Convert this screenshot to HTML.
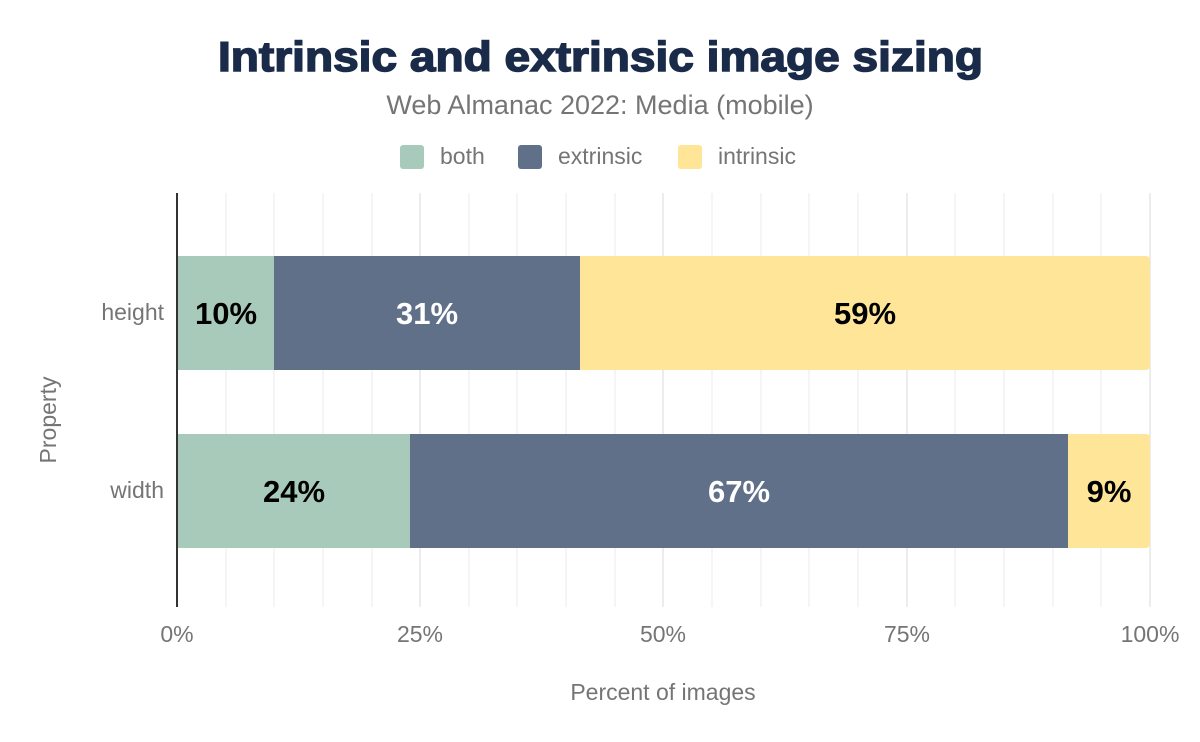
<!DOCTYPE html>
<html><head><style>body{margin:0;background:#fff}svg{display:block}</style></head><body>
<svg width="1200" height="742" xmlns="http://www.w3.org/2000/svg" font-family="Liberation Sans, Arial, sans-serif">
<rect width="1200" height="742" fill="#fff"/>
<text x="218" y="71" textLength="765" lengthAdjust="spacingAndGlyphs" font-size="42" font-weight="900" fill="#1a2b49" stroke="#1a2b49" stroke-width="1.5">Intrinsic and extrinsic image sizing</text>
<text x="600" y="114" text-anchor="middle" font-size="27" fill="#757575">Web Almanac 2022: Media (mobile)</text>
<rect x="400" y="145" width="24" height="24" rx="3" fill="#a8cabb"/>
<text x="440" y="164" font-size="23" fill="#757575">both</text>
<rect x="518" y="145" width="24" height="24" rx="3" fill="#617089"/>
<text x="558" y="164" font-size="23" fill="#757575">extrinsic</text>
<rect x="678" y="145" width="24" height="24" rx="3" fill="#fee597"/>
<text x="718" y="164" font-size="23" fill="#757575">intrinsic</text>
<g stroke="#f5f5f5" stroke-width="2">
<line x1="226" y1="193" x2="226" y2="607"/><line x1="274" y1="193" x2="274" y2="607"/><line x1="323" y1="193" x2="323" y2="607"/><line x1="372" y1="193" x2="372" y2="607"/>
<line x1="469" y1="193" x2="469" y2="607"/><line x1="517" y1="193" x2="517" y2="607"/><line x1="566" y1="193" x2="566" y2="607"/><line x1="615" y1="193" x2="615" y2="607"/>
<line x1="712" y1="193" x2="712" y2="607"/><line x1="761" y1="193" x2="761" y2="607"/><line x1="809" y1="193" x2="809" y2="607"/><line x1="858" y1="193" x2="858" y2="607"/>
<line x1="955" y1="193" x2="955" y2="607"/><line x1="1004" y1="193" x2="1004" y2="607"/><line x1="1053" y1="193" x2="1053" y2="607"/><line x1="1101" y1="193" x2="1101" y2="607"/>
</g>
<g stroke="#ececec" stroke-width="2">
<line x1="420" y1="193" x2="420" y2="607"/><line x1="663" y1="193" x2="663" y2="607"/><line x1="907" y1="193" x2="907" y2="607"/><line x1="1150" y1="193" x2="1150" y2="607"/>
</g>
<rect x="177" y="256" width="97" height="114" fill="#a8cabb"/>
<rect x="274" y="256" width="306" height="114" fill="#617089"/>
<path d="M580 256H1146a4 4 0 0 1 4 4V366a4 4 0 0 1-4 4H580Z" fill="#fee597"/>
<rect x="177" y="434" width="233" height="114" fill="#a8cabb"/>
<rect x="410" y="434" width="658" height="114" fill="#617089"/>
<path d="M1068 434H1146a4 4 0 0 1 4 4V544a4 4 0 0 1-4 4H1068Z" fill="#fee597"/>
<line x1="177" y1="193" x2="177" y2="607" stroke="#333" stroke-width="2"/>
<g font-size="31" font-weight="bold" text-anchor="middle">
<text x="226" y="324" fill="#000">10%</text>
<text x="427" y="324" fill="#fff">31%</text>
<text x="865" y="324" fill="#000">59%</text>
<text x="294" y="502" fill="#000">24%</text>
<text x="739" y="502" fill="#fff">67%</text>
<text x="1109" y="502" fill="#000">9%</text>
</g>
<g font-size="23" fill="#757575">
<text x="164" y="320" text-anchor="end">height</text>
<text x="164" y="498" text-anchor="end">width</text>
<text x="177" y="642" text-anchor="middle">0%</text>
<text x="420" y="642" text-anchor="middle">25%</text>
<text x="663" y="642" text-anchor="middle">50%</text>
<text x="907" y="642" text-anchor="middle">75%</text>
<text x="1150" y="642" text-anchor="middle">100%</text>
<text x="663" y="700" text-anchor="middle">Percent of images</text>
<text transform="translate(56,420) rotate(-90)" text-anchor="middle">Property</text>
</g>
</svg>
</body></html>
